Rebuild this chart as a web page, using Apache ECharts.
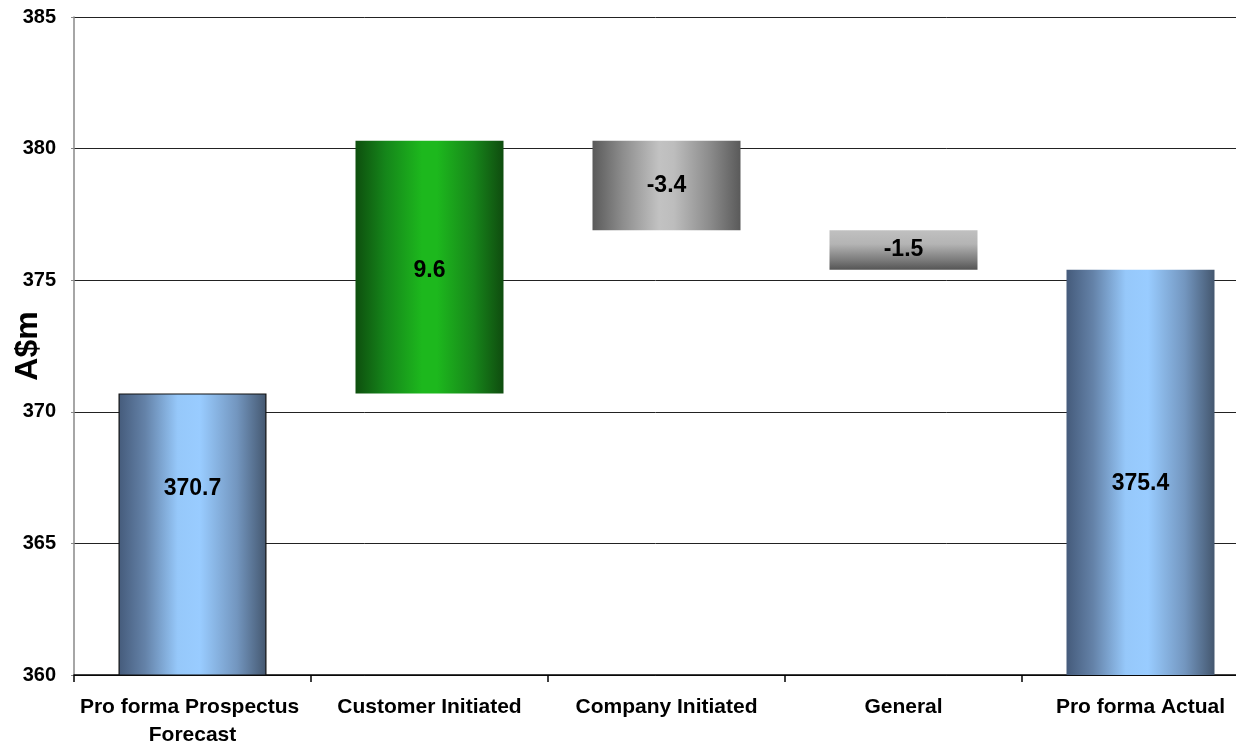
<!DOCTYPE html>
<html>
<head>
<meta charset="utf-8">
<script src="https://cdn.jsdelivr.net/npm/echarts@6/dist/echarts.min.js"></script>
<style>
html,body{margin:0;padding:0;background:#fff;}
#chart{width:1236px;height:742px;}
</style>
</head>
<body>
<div id="chart"></div>
<script>
// ---- data ----
const categories = ['Pro forma Prospectus Forecast', 'Customer Initiated', 'Company Initiated', 'General', 'Pro forma Actual'];
const values = [370.7, 9.6, -3.4, -1.5, 375.4];
const isTotal = [true, false, false, false, true];
const yMin = 360, yMax = 385, yInterval = 5;
const yAxisName = 'A$m';

// ---- build waterfall ----
const baseData = [];
const barData = [];
let running = 0;
values.forEach((v, i) => {
  if (isTotal[i]) {
    baseData.push(0);
    barData.push(v);
    running = v;
  } else {
    const next = running + v;
    baseData.push(Math.min(running, next));
    barData.push(Math.abs(v));
    running = next;
  }
});

function hGrad(stops) {
  return { type: 'linear', x: 0, y: 0, x2: 1, y2: 0, colorStops: stops };
}
function vGrad(stops) {
  return { type: 'linear', x: 0, y: 0, x2: 0, y2: 1, colorStops: stops };
}
const blue = hGrad([
  { offset: 0, color: '#455b7b' }, { offset: 0.18, color: '#6482a8' },
  { offset: 0.4, color: '#96c8fa' }, { offset: 0.55, color: '#99ccff' },
  { offset: 0.8, color: '#7396bf' }, { offset: 1, color: '#44576f' }
]);
const green = hGrad([
  { offset: 0, color: '#0e4f0e' }, { offset: 0.2, color: '#15851a' },
  { offset: 0.45, color: '#1db81d' }, { offset: 0.55, color: '#1db81d' },
  { offset: 0.8, color: '#17851a' }, { offset: 1, color: '#0f4c0f' }
]);
const greyH = hGrad([
  { offset: 0, color: '#5a5a5a' }, { offset: 0.2, color: '#8c8c8c' },
  { offset: 0.45, color: '#c2c2c2' }, { offset: 0.55, color: '#bdbdbd' },
  { offset: 0.8, color: '#8a8a8a' }, { offset: 1, color: '#5a5a5a' }
]);
const greyV = vGrad([
  { offset: 0, color: '#c0c0c0' }, { offset: 0.35, color: '#b4b4b4' },
  { offset: 0.75, color: '#7c7c7c' }, { offset: 1, color: '#555555' }
]);
const fills = [blue, green, greyH, greyV, blue];
const labelOffsets = [[0, -46], [0, 4], [0, 0], [0, 0], [0, 11]];

const chart = echarts.init(document.getElementById('chart'), null, { renderer: 'canvas' });
const font = '"Liberation Sans", Arial, sans-serif';

chart.setOption({
  animation: false,
  backgroundColor: '#ffffff',
  grid: { left: 74, right: -23, top: 17, bottom: 67, containLabel: false, outerBoundsMode: 'none' },
  xAxis: {
    type: 'category',
    data: categories,
    axisLine: { show: true, lineStyle: { color: '#000', width: 1.5 } },
    axisTick: { show: true, length: 7, lineStyle: { color: '#000', width: 1.5 } },
    axisLabel: {
      interval: 0, margin: 18, color: '#000', fontFamily: font, fontWeight: 'bold',
      fontSize: 21, lineHeight: 28, width: 235, overflow: 'break'
    },
    splitLine: { show: false }
  },
  yAxis: {
    type: 'value',
    min: yMin, max: yMax, interval: yInterval,
    name: yAxisName,
    nameLocation: 'middle',
    nameGap: 30,
    nameRotate: 90,
    nameMoveOverlap: false,
    nameTextStyle: { color: '#000', fontFamily: font, fontWeight: 'bold', fontSize: 32 },
    axisLine: { show: true, lineStyle: { color: '#888', width: 1.5 } },
    axisTick: { show: true, length: 3, lineStyle: { color: '#888' } },
    axisLabel: { margin: 18, color: '#000', fontFamily: font, fontWeight: 'bold', fontSize: 20 },
    splitLine: { show: true, lineStyle: { color: '#222', width: 1 } }
  },
  series: [
    {
      name: 'base', type: 'bar', stack: 'wf', barWidth: 148,
      data: baseData,
      itemStyle: { color: 'transparent' },
      emphasis: { disabled: true },
      silent: true
    },
    {
      name: 'value', type: 'bar', stack: 'wf', barWidth: 148,
      data: barData.map((v, i) => ({
        value: v,
        itemStyle: i === 0 ? { color: fills[i], borderColor: '#111', borderWidth: 1.2 } : { color: fills[i] },
        label: { offset: labelOffsets[i] }
      })),
      label: {
        show: true, position: 'inside', color: '#000', fontFamily: font,
        fontWeight: 'bold', fontSize: 23,
        formatter: p => String(values[p.dataIndex])
      }
    }
  ]
});
</script>
</body>
</html>
